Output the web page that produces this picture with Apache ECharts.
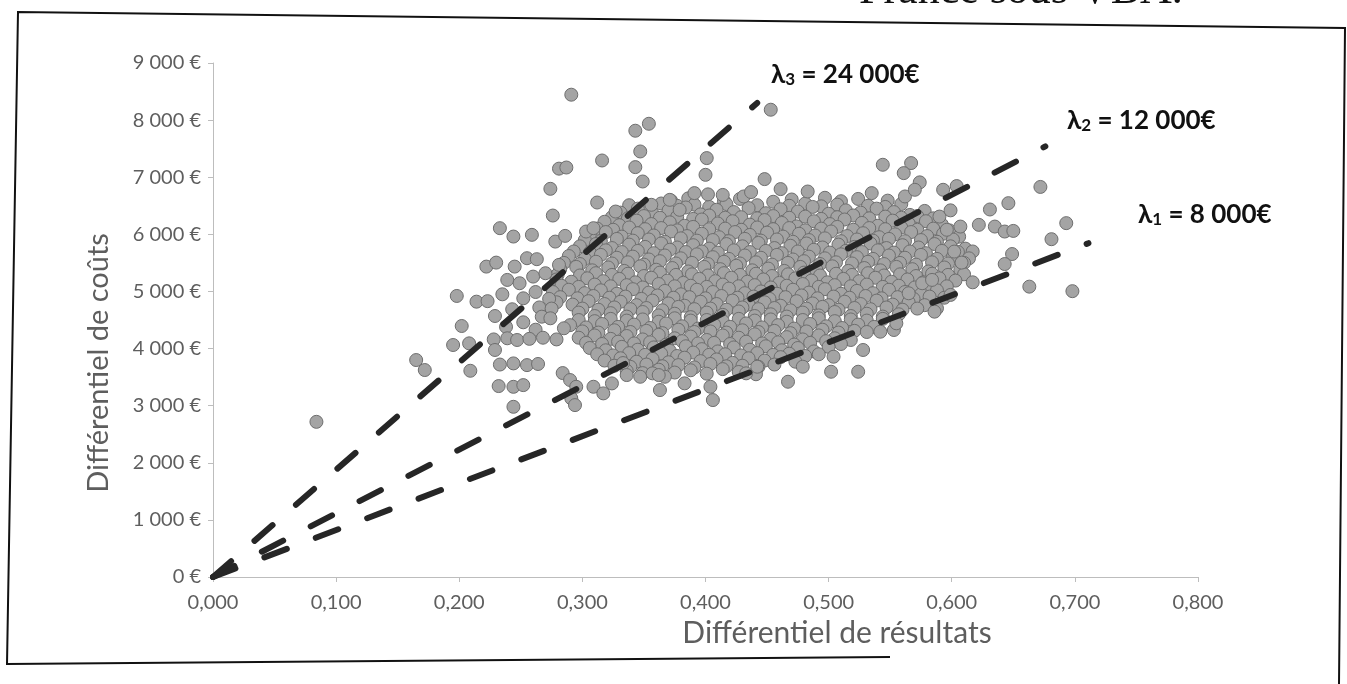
<!DOCTYPE html>
<html>
<head>
<meta charset="utf-8">
<script src="https://cdn.jsdelivr.net/npm/echarts@6/dist/echarts.min.js"></script>
<style>
html,body{margin:0;padding:0;background:#fff}
#chart{width:1347px;height:684px}
</style>
</head>
<body>
<div id="chart"></div>
<script>
var corePoints = [
  [0.372,6590],[0.386,6630],[0.415,6580],[0.428,6620],[0.455,6570],[0.470,6610],[0.497,6640],[0.510,6580],[0.524,6620],[0.548,6590],
  [0.338,6510],[0.352,6490],[0.364,6540],[0.377,6500],[0.391,6520],[0.403,6480],[0.417,6530],[0.442,6510],[0.468,6500],[0.481,6540],
  [0.494,6490],[0.507,6520],[0.532,6500],[0.546,6480],[0.559,6530],
  [0.331,6380],[0.345,6450],[0.357,6360],[0.370,6420],[0.384,6470],[0.396,6350],[0.409,6430],[0.423,6390],[0.435,6460],[0.449,6370],
  [0.461,6440],[0.475,6400],[0.487,6480],[0.500,6360],[0.514,6420],[0.526,6380],[0.539,6450],[0.553,6390],[0.566,6340],[0.578,6410],
  [0.324,6300],[0.337,6280],[0.350,6320],[0.363,6290],[0.377,6310],[0.390,6270],[0.403,6330],[0.416,6290],[0.429,6300],[0.442,6280],
  [0.455,6320],[0.468,6290],[0.481,6310],[0.494,6270],[0.507,6300],[0.520,6330],[0.533,6280],[0.546,6310],[0.559,6290],[0.572,6320],
  [0.585,6280],
  [0.318,6220],[0.330,6160],[0.344,6240],[0.356,6180],[0.371,6210],[0.383,6150],[0.397,6260],[0.410,6190],[0.422,6230],[0.436,6170],
  [0.448,6250],[0.462,6200],[0.474,6140],[0.488,6230],[0.501,6180],[0.513,6260],[0.527,6200],[0.540,6150],[0.552,6240],[0.565,6190],
  [0.579,6230],[0.592,6170],
  [0.312,6100],[0.325,6080],[0.338,6120],[0.351,6090],[0.364,6110],[0.377,6070],[0.390,6130],[0.403,6090],[0.416,6100],[0.429,6080],
  [0.442,6120],[0.455,6090],[0.468,6110],[0.481,6070],[0.494,6100],[0.507,6130],[0.520,6080],[0.533,6110],[0.546,6090],[0.559,6120],
  [0.572,6080],[0.585,6100],[0.598,6070],
  [0.306,5990],[0.319,6040],[0.332,5960],[0.345,6020],[0.358,5980],[0.372,6050],[0.385,5970],[0.397,6010],[0.411,5950],[0.424,6040],
  [0.436,5990],[0.450,6030],[0.463,5960],[0.476,6010],[0.489,5980],[0.502,6050],[0.515,5970],[0.528,6020],[0.541,5950],[0.554,6000],
  [0.567,6040],[0.580,5970],[0.593,6010],[0.606,5960],
  [0.302,5900],[0.315,5880],[0.328,5920],[0.341,5890],[0.354,5910],[0.367,5870],[0.380,5930],[0.393,5890],[0.406,5900],[0.419,5880],
  [0.432,5920],[0.445,5890],[0.458,5910],[0.471,5870],[0.484,5900],[0.497,5930],[0.510,5880],[0.523,5910],[0.536,5890],[0.549,5920],
  [0.562,5880],[0.575,5900],[0.588,5870],[0.601,5910],
  [0.298,5790],[0.311,5830],[0.324,5760],[0.338,5820],[0.351,5780],[0.364,5840],[0.377,5770],[0.390,5810],[0.403,5750],[0.417,5830],
  [0.430,5790],[0.443,5850],[0.456,5760],[0.469,5800],[0.482,5840],[0.495,5770],[0.508,5820],[0.521,5780],[0.534,5840],[0.547,5760],
  [0.560,5810],[0.573,5770],[0.586,5830],[0.599,5790],[0.611,5750],
  [0.293,5700],[0.306,5680],[0.319,5720],[0.332,5690],[0.345,5710],[0.358,5670],[0.371,5730],[0.384,5690],[0.397,5700],[0.410,5680],
  [0.423,5720],[0.436,5690],[0.449,5710],[0.462,5670],[0.475,5700],[0.488,5730],[0.501,5680],[0.514,5710],[0.527,5690],[0.540,5720],
  [0.553,5680],[0.566,5700],[0.579,5670],[0.592,5710],[0.605,5690],[0.617,5700],
  [0.289,5620],[0.302,5570],[0.315,5640],[0.328,5590],[0.341,5610],[0.354,5560],[0.367,5630],[0.380,5580],[0.393,5650],[0.406,5600],
  [0.419,5570],[0.432,5630],[0.445,5590],[0.458,5640],[0.471,5560],[0.484,5610],[0.497,5580],[0.510,5650],[0.523,5600],[0.536,5570],
  [0.549,5630],[0.562,5590],[0.575,5640],[0.588,5570],[0.601,5610],[0.614,5580],
  [0.285,5500],[0.298,5480],[0.311,5520],[0.324,5490],[0.337,5510],[0.350,5470],[0.363,5530],[0.376,5490],[0.389,5500],[0.402,5480],
  [0.415,5520],[0.428,5490],[0.441,5510],[0.454,5470],[0.467,5500],[0.480,5530],[0.493,5480],[0.506,5510],[0.519,5490],[0.532,5520],
  [0.545,5480],[0.558,5500],[0.571,5470],[0.584,5510],[0.597,5490],[0.610,5500],
  [0.282,5390],[0.295,5430],[0.308,5370],[0.321,5420],[0.334,5360],[0.347,5440],[0.360,5380],[0.373,5410],[0.386,5350],[0.399,5430],
  [0.412,5390],[0.425,5450],[0.438,5370],[0.451,5400],[0.464,5360],[0.477,5430],[0.490,5380],[0.503,5440],[0.516,5360],[0.529,5410],
  [0.542,5370],[0.555,5430],[0.568,5390],[0.581,5350],[0.594,5420],[0.607,5380],
  [0.280,5300],[0.298,5280],[0.311,5320],[0.324,5290],[0.337,5310],[0.350,5270],[0.363,5330],[0.376,5290],[0.389,5300],[0.402,5280],
  [0.415,5320],[0.428,5290],[0.441,5310],[0.454,5270],[0.467,5300],[0.480,5330],[0.493,5280],[0.506,5310],[0.519,5290],[0.532,5320],
  [0.545,5280],[0.558,5300],[0.571,5270],[0.584,5310],[0.597,5290],[0.610,5300],
  [0.279,5210],[0.291,5170],[0.304,5230],[0.317,5180],[0.330,5220],[0.343,5160],[0.356,5240],[0.369,5190],[0.382,5150],[0.395,5220],
  [0.408,5180],[0.421,5240],[0.434,5170],[0.447,5210],[0.460,5150],[0.473,5230],[0.486,5190],[0.499,5160],[0.512,5220],[0.525,5180],
  [0.538,5240],[0.551,5170],[0.564,5210],[0.577,5160],[0.590,5230],[0.603,5190],
  [0.283,5100],[0.297,5080],[0.310,5120],[0.323,5090],[0.336,5110],[0.349,5070],[0.362,5130],[0.375,5090],[0.388,5100],[0.401,5080],
  [0.414,5120],[0.427,5090],[0.440,5110],[0.453,5070],[0.466,5100],[0.479,5130],[0.492,5080],[0.505,5110],[0.518,5090],[0.531,5120],
  [0.544,5080],[0.557,5100],[0.570,5070],[0.583,5110],[0.596,5090],
  [0.276,4990],[0.289,5030],[0.302,4970],[0.315,5020],[0.328,4960],[0.341,5040],[0.354,4980],[0.367,5010],[0.380,4950],[0.393,5030],
  [0.406,4990],[0.419,5050],[0.432,4970],[0.445,5000],[0.458,4960],[0.471,5030],[0.484,4980],[0.497,5040],[0.510,4960],[0.523,5010],
  [0.536,4970],[0.549,5030],[0.562,4990],[0.575,4950],[0.588,5020],
  [0.282,4900],[0.296,4880],[0.309,4920],[0.322,4890],[0.335,4910],[0.348,4870],[0.361,4930],[0.374,4890],[0.387,4900],[0.400,4880],
  [0.413,4920],[0.426,4890],[0.439,4910],[0.452,4870],[0.465,4900],[0.478,4930],[0.491,4880],[0.504,4910],[0.517,4890],[0.530,4920],
  [0.543,4880],[0.556,4900],[0.569,4870],[0.582,4910],[0.594,4890],
  [0.279,4810],[0.292,4770],[0.305,4830],[0.318,4780],[0.331,4820],[0.344,4760],[0.357,4840],[0.370,4790],[0.383,4750],[0.396,4820],
  [0.409,4780],[0.422,4840],[0.435,4770],[0.448,4810],[0.461,4750],[0.474,4830],[0.487,4790],[0.500,4760],[0.513,4820],[0.526,4780],
  [0.539,4840],[0.552,4770],[0.565,4810],[0.578,4760],
  [0.300,4700],[0.313,4680],[0.326,4720],[0.339,4690],[0.352,4710],[0.365,4670],[0.378,4730],[0.391,4690],[0.404,4700],[0.417,4680],
  [0.430,4720],[0.443,4690],[0.456,4710],[0.469,4670],[0.482,4700],[0.495,4730],[0.508,4680],[0.521,4710],[0.534,4690],[0.547,4720],
  [0.560,4680],[0.572,4700],
  [0.297,4630],[0.310,4570],[0.323,4620],[0.336,4560],[0.349,4640],[0.362,4580],[0.375,4610],[0.388,4550],[0.401,4630],[0.414,4590],
  [0.427,4650],[0.440,4570],[0.453,4600],[0.466,4560],[0.479,4630],[0.492,4580],[0.505,4640],[0.518,4570],[0.531,4610],[0.544,4560],
  [0.557,4600],
  [0.297,4500],[0.310,4480],[0.323,4520],[0.336,4490],[0.349,4510],[0.362,4470],[0.375,4530],[0.388,4490],[0.401,4500],[0.414,4480],
  [0.427,4520],[0.440,4490],[0.453,4510],[0.466,4470],[0.479,4500],[0.492,4530],[0.505,4480],[0.518,4510],[0.531,4490],[0.544,4520],
  [0.290,4410],[0.303,4370],[0.316,4430],[0.329,4380],[0.342,4420],[0.355,4360],[0.368,4440],[0.381,4390],[0.394,4350],[0.407,4420],
  [0.420,4380],[0.433,4440],[0.446,4370],[0.459,4410],[0.472,4350],[0.485,4430],[0.498,4390],[0.511,4360],[0.524,4420],[0.537,4380],
  [0.300,4300],[0.313,4280],[0.326,4320],[0.339,4290],[0.352,4310],[0.365,4270],[0.378,4330],[0.391,4290],[0.404,4300],[0.417,4280],
  [0.430,4320],[0.443,4290],[0.456,4310],[0.469,4270],[0.482,4300],[0.495,4330],[0.508,4280],[0.521,4310],[0.531,4290],
  [0.297,4190],[0.310,4230],[0.323,4170],[0.336,4220],[0.349,4160],[0.362,4240],[0.375,4180],[0.388,4210],[0.401,4150],[0.414,4230],
  [0.427,4190],[0.440,4250],[0.453,4170],[0.466,4200],[0.479,4160],[0.492,4230],[0.505,4180],[0.518,4150],
  [0.303,4100],[0.316,4080],[0.329,4120],[0.342,4090],[0.355,4110],[0.368,4070],[0.381,4130],[0.394,4090],[0.407,4100],[0.420,4080],
  [0.433,4120],[0.446,4090],[0.459,4110],[0.472,4070],[0.485,4100],[0.498,4130],[0.510,4080],
  [0.306,4010],[0.319,3970],[0.332,4030],[0.345,3980],[0.358,4020],[0.371,3960],[0.384,4040],[0.397,3990],[0.410,3950],[0.423,4020],
  [0.436,3980],[0.449,4040],[0.462,3970],[0.475,4010],[0.488,3950],[0.500,4030],
  [0.312,3900],[0.325,3880],[0.338,3920],[0.351,3890],[0.364,3910],[0.377,3870],[0.390,3930],[0.403,3890],[0.416,3900],[0.429,3880],
  [0.442,3920],[0.455,3890],[0.468,3910],[0.481,3870],[0.492,3900],
  [0.318,3790],[0.331,3830],[0.344,3770],[0.357,3820],[0.370,3760],[0.383,3840],[0.396,3780],[0.409,3810],[0.422,3750],[0.435,3830],
  [0.448,3790],[0.461,3850],[0.473,3770],
  [0.326,3700],[0.339,3680],[0.352,3720],[0.365,3690],[0.378,3710],[0.391,3670],[0.404,3730],[0.417,3690],[0.430,3700],[0.443,3680],
  [0.456,3720],
  [0.336,3610],[0.349,3570],[0.362,3630],[0.375,3580],[0.388,3620],[0.401,3560],[0.414,3640],[0.427,3590],[0.441,3550]
];

var leftPoints = [
  [0.291,8445],[0.354,7936],[0.343,7814],[0.347,7451],[0.343,7177],[0.316,7293],[0.281,7150],[0.287,7170],
  [0.274,6797],[0.312,6557],[0.276,6329],[0.349,6925],[0.356,6517],[0.371,6604],[0.379,6429],[0.233,6108],
  [0.244,5961],[0.259,5991],[0.222,5435],[0.230,5505],[0.245,5435],[0.255,5582],[0.263,5565],[0.278,5873],
  [0.286,5973],[0.239,5202],[0.249,5144],[0.260,5260],[0.270,5319],[0.198,4921],[0.214,4821],[0.223,4830],
  [0.229,4570],[0.243,4688],[0.202,4395],[0.281,5465],[0.303,6049],[0.309,6108],[0.327,6399],
  [0.235,4950],[0.252,4880],[0.262,4990],[0.273,4870],[0.265,4720],[0.275,4700],[0.267,4558],[0.274,4530],
  [0.285,4355],[0.252,4460],[0.238,4380],[0.262,4330],
  [0.228,4160],[0.239,4180],[0.247,4150],[0.257,4170],[0.268,4190],[0.279,4160],[0.229,3975],
  [0.233,3720],[0.244,3740],[0.255,3710],[0.264,3730],[0.232,3343],[0.244,3330],[0.252,3360],[0.244,2980],
  [0.284,3571],[0.290,3449],[0.295,3331],[0.291,3128],[0.294,3010],[0.309,3331],[0.317,3215],[0.324,3390],
  [0.333,3746],[0.347,3506],[0.357,3566],[0.367,3506],[0.363,3273],[0.406,3098],[0.404,3331],[0.433,3566],
  [0.442,3682],[0.084,2717],[0.165,3799],[0.172,3624],[0.209,3611],[0.195,4062],[0.208,4091],[0.336,3536],
  [0.362,3536]
];

var rightPoints = [
  [0.453,8182],[0.401,7335],[0.400,7042],[0.448,6967],[0.461,6792],[0.483,6750],[0.391,6722],[0.402,6700],
  [0.414,6690],[0.431,6663],[0.437,6740],[0.544,7218],[0.567,7248],[0.561,7072],[0.574,6910],[0.562,6663],
  [0.570,6780],[0.535,6722],[0.593,6780],[0.604,6845],[0.672,6830],[0.646,6546],[0.631,6435],[0.693,6196],
  [0.681,5915],[0.649,5655],[0.643,5480],[0.663,5084],[0.698,5005],[0.607,6136],[0.622,6166],[0.635,6136],
  [0.643,6049],[0.650,6060],[0.596,6080],[0.590,6311],[0.599,6420],[0.617,5160],[0.602,5698],[0.608,5505],
  [0.599,4939],[0.588,4705],[0.586,4646],[0.576,5144],[0.584,5202],[0.565,4968],[0.553,4325],[0.542,4295],
  [0.528,3975],[0.504,3857],[0.502,3594],[0.524,3594],[0.479,3682],[0.467,3419],[0.555,4442],[0.383,3391]
];

// droites de disposition a payer : extremites (depart a l'origine)
var lambdaSubs = ['1', '2', '3'];
var lambdaValues = ['8 000€', '12 000€', '24 000€'];
var lambdaEnds = [[0.711, 5845], [0.676, 7539], [0.442, 8300]];

var xMax = 0.8, xStep = 0.1;
var yMax = 9000, yStep = 1000;

var font = 'Lato, "Open Sans", sans-serif';
var grey = '#5e5e5e';

function euro(v) {
  if (v === 0) return '0 €';
  var s = String(v);
  return s.slice(0, s.length - 3) + ' ' + s.slice(s.length - 3) + ' €';
}

var chart = echarts.init(document.getElementById('chart'));

var series = [{
  type: 'scatter',
  data: corePoints.concat(leftPoints, rightPoints),
  symbolSize: 13,
  itemStyle: { color: '#a4a4a4', borderColor: '#6e6e6e', borderWidth: 1, opacity: 1 },
  z: 2,
  silent: true
}];
lambdaEnds.forEach(function (e) {
  series.push({
    type: 'line',
    data: [[0, 0], e],
    symbol: 'none',
    lineStyle: { color: '#262626', width: 6, type: [24, 31], cap: 'round' },
    z: 3,
    silent: true
  });
});

// positions des etiquettes lambda (px)
var labelPos = [[1138, 213], [1067, 119], [771, 73]];
var graphics = lambdaSubs.map(function (sub, i) {
  return {
    type: 'text',
    x: labelPos[i][0],
    y: labelPos[i][1],
    style: {
      text: '{a|λ}{s|' + sub + '}{a| = ' + lambdaValues[i] + '}',
      verticalAlign: 'middle',
      rich: {
        a: { fontFamily: font, fontWeight: 'bold', fontSize: 26, fill: '#111', verticalAlign: 'bottom', lineHeight: 30 },
        s: { fontFamily: font, fontWeight: 'bold', fontSize: 17, fill: '#111', verticalAlign: 'bottom', lineHeight: 30 }
      }
    },
    z: 10
  };
});

graphics.push(
  {
    type: 'text', x: 99, y: 363, rotation: Math.PI / 2,
    style: { text: 'Différentiel de coûts', font: '29px ' + font, fill: grey, align: 'center', verticalAlign: 'middle' }
  },
  {
    type: 'text', x: 837, y: 633,
    style: { text: 'Différentiel de résultats', font: '30px ' + font, fill: grey, align: 'center', verticalAlign: 'middle' }
  },
  {
    // fin de la ligne de texte du document, coupee en haut de l'image
    type: 'text', x: 859, y: -31,
    style: { text: 'France sous VBA.', font: '44px "Liberation Serif", serif', fill: '#111', align: 'left', verticalAlign: 'top' }
  },
  {
    type: 'polyline',
    shape: { points: [[1339, 684], [1345, 28], [18, 12], [7, 664], [890, 657]] },
    style: { stroke: '#111', lineWidth: 2, fill: null }
  }
);

chart.setOption({
  animation: false,
  backgroundColor: '#fff',
  grid: { left: 213, right: 149, top: 63, bottom: 107 },
  xAxis: {
    type: 'value', min: 0, max: xMax, interval: xStep,
    axisLine: { show: true, lineStyle: { color: '#bdbdbd', width: 1 } },
    axisTick: { show: true, length: 5, lineStyle: { color: '#bdbdbd' } },
    splitLine: { show: false },
    axisLabel: {
      fontFamily: font, fontSize: 20, color: grey, margin: 16,
      formatter: function (v) { return v.toFixed(3).replace('.', ','); }
    }
  },
  yAxis: {
    type: 'value', min: 0, max: yMax, interval: yStep,
    axisLine: { show: true, lineStyle: { color: '#bdbdbd', width: 1 } },
    axisTick: { show: true, length: 5, lineStyle: { color: '#bdbdbd' } },
    splitLine: { show: false },
    axisLabel: { fontFamily: font, fontSize: 20, color: grey, margin: 12, formatter: euro }
  },
  series: series,
  graphic: graphics
});
</script>
</body>
</html>
